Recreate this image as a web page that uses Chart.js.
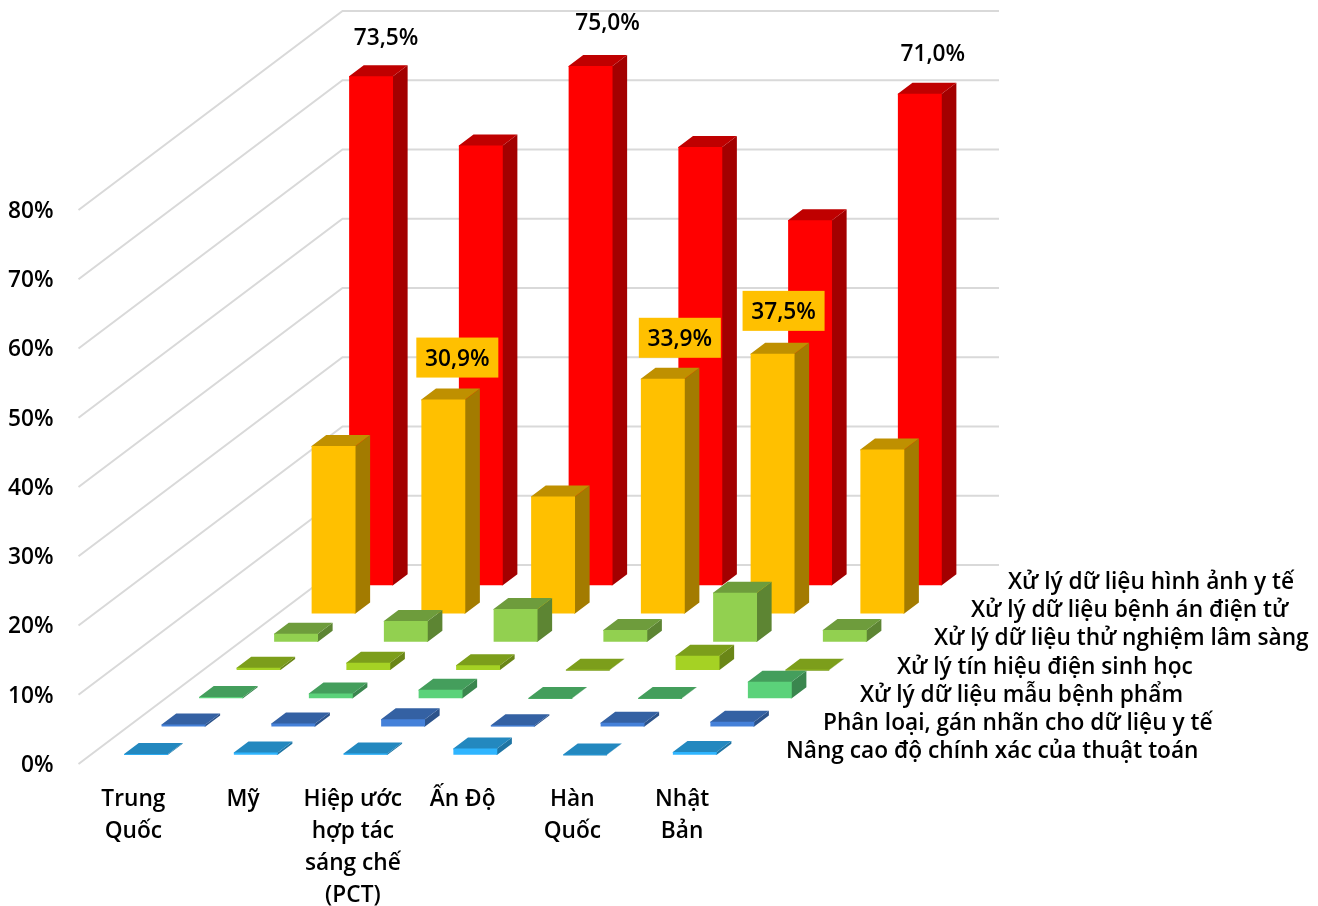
<!DOCTYPE html>
<html lang="vi">
<head>
<meta charset="utf-8">
<title>Biểu đồ cột 3D</title>
<script src="https://cdn.jsdelivr.net/npm/chart.js@4"></script>
<style>
  html, body { margin: 0; background: #fff; }
  canvas { display: block; }
</style>
</head>
<body>
<canvas id="chart" width="1318" height="906"></canvas>
<script>
const countries = [['Trung', 'Quốc'], 'Mỹ', ['Hiệp ước', 'hợp tác', 'sáng chế', '(PCT)'], 'Ấn Độ', ['Hàn', 'Quốc'], ['Nhật', 'Bản']];

// Series run front to back
const seriesNames = [
  'Nâng cao độ chính xác của thuật toán',
  'Phân loại, gán nhãn cho dữ liệu y tế',
  'Xử lý dữ liệu mẫu bệnh phẩm',
  'Xử lý tín hiệu điện sinh học',
  'Xử lý dữ liệu thử nghiệm lâm sàng',
  'Xử lý dữ liệu bệnh án điện tử',
  'Xử lý dữ liệu hình ảnh y tế',
];
const accuracy = [0.1, 0.35, 0.2, 0.9, 0.05, 0.4];
const annotation = [0.3, 0.45, 1.05, 0.2, 0.55, 0.7];
const specimens = [0.2, 0.7, 1.25, 0.05, 0.05, 2.4];
const biosignals = [0.35, 1.05, 0.7, 0.05, 2.05, 0.05];
const trials = [1.15, 3.0, 4.75, 1.7, 7.1, 1.7];
const records = [24.2, 30.9, 16.9, 33.9, 37.5, 23.7];
const imaging = [73.5, 63.5, 75.0, 63.3, 52.7, 71.0];
const seriesValues = [accuracy, annotation, specimens, biosignals, trials, records, imaging];

const seriesColors = [[47, 181, 255], [69, 129, 217], [91, 210, 122], [165, 210, 36], [146, 208, 80], [255, 192, 0], [255, 0, 0]];

// Which bars carry a value label, and where the label sits relative to the bar top
const valueLabels = [
  { series: 6, index: 0, dx: 15, dy: -40 },
  { series: 6, index: 2, dx: 17, dy: -44 },
  { series: 6, index: 5, dx: 13, dy: -41 },
  { series: 5, index: 1, dx: 14, dy: -42, box: '#FFC000' },
  { series: 5, index: 3, dx: 17, dy: -41, box: '#FFC000' },
  { series: 5, index: 4, dx: 11, dy: -43, box: '#FFC000' },
];

const FONT = '"Open Sans", "Noto Sans", sans-serif';
const FONT_SIZE = 22.7;

// Oblique projection
const STEP_X = 37.5, STEP_Y = 28.25;     // shift per series
const FRONT_X = 12.7, FRONT_Y = 9.2;     // first series inset from the front edge
const BAR_DX = 14.6, BAR_DY = 11;        // visible depth of one bar
const WALL_DX = 264, WALL_DY = 199;      // floor depth
const WALL_RIGHT = 999;

function shade(rgb, k) {
  return `rgb(${rgb.map(c => Math.round(c * k)).join(',')})`;
}

function polygon(ctx, points, color) {
  ctx.fillStyle = color;
  ctx.beginPath();
  points.forEach(([x, y], i) => (i ? ctx.lineTo(x, y) : ctx.moveTo(x, y)));
  ctx.closePath();
  ctx.fill();
}

function depthShift(series) {
  return [FRONT_X + series * STEP_X, -(FRONT_Y + series * STEP_Y)];
}

const bars3d = {
  id: 'bars3d',

  // Side wall and receding gridlines
  beforeDatasetsDraw(chart) {
    const { ctx, scales: { y } } = chart;
    ctx.save();
    ctx.strokeStyle = '#D9D9D9';
    ctx.lineWidth = 2;
    y.ticks.forEach(t => {
      const py = y.getPixelForValue(t.value);
      ctx.beginPath();
      ctx.moveTo(y.right, py);
      ctx.lineTo(y.right + WALL_DX, py - WALL_DY);
      ctx.lineTo(WALL_RIGHT, py - WALL_DY);
      ctx.stroke();
    });
    ctx.restore();
  },

  // Shift the whole dataset back, add side and top faces; the library draws the front.
  // Faces run 1px under the front so nothing shows through at the shared edge.
  beforeDatasetDraw(chart, args) {
    const { ctx } = chart;
    const [sx, sy] = depthShift(args.index);
    const rgb = seriesColors[args.index];
    ctx.save();
    ctx.translate(sx, sy);
    args.meta.data.forEach(bar => {
      const l = bar.x - bar.width / 2, r = bar.x + bar.width / 2;
      polygon(ctx, [[r - 1, bar.y], [r, bar.y], [r + BAR_DX, bar.y - BAR_DY], [r + BAR_DX, bar.base - BAR_DY], [r, bar.base], [r - 1, bar.base]], shade(rgb, 0.64));
      polygon(ctx, [[l, bar.y + 1], [l, bar.y], [l + BAR_DX, bar.y - BAR_DY], [r + BAR_DX, bar.y - BAR_DY], [r, bar.y], [r, bar.y + 1]], shade(rgb, 0.75));
    });
  },

  afterDatasetDraw(chart) {
    chart.ctx.restore();
  },

  // Series names along the depth axis and value labels on top of everything
  afterDatasetsDraw(chart) {
    const { ctx, scales: { x } } = chart;
    ctx.save();
    ctx.font = `600 ${FONT_SIZE}px ${FONT}`;
    ctx.fillStyle = '#000';
    ctx.textBaseline = 'middle';
    ctx.textAlign = 'left';
    seriesNames.forEach((name, i) => {
      ctx.fillText(name, x.right + 49 + i * 37, 752 - i * STEP_Y);
    });

    ctx.textAlign = 'center';
    valueLabels.forEach(({ series, index, dx, dy, box }) => {
      const bar = chart.getDatasetMeta(series).data[index];
      const [sx, sy] = depthShift(series);
      const cx = bar.x + sx + dx, cy = bar.y + sy + dy;
      if (box) {
        ctx.fillStyle = box;
        ctx.fillRect(cx - 41, cy - 20, 82, 40);
      }
      ctx.fillStyle = '#000';
      const text = seriesValues[series][index].toFixed(1).replace('.', ',') + '%';
      ctx.fillText(text, cx, cy + 2);
    });
    ctx.restore();
  },
};

new Chart(document.getElementById('chart'), {
  type: 'bar',
  data: {
    labels: countries,
    datasets: seriesNames.map((label, i) => ({
      label,
      data: seriesValues[i],
      backgroundColor: shade(seriesColors[i], 1),
      grouped: false,
      clip: false,
      barPercentage: 1,
      categoryPercentage: 0.4,
    })),
  },
  options: {
    responsive: false,
    animation: false,
    layout: { padding: { top: 210, right: 581 } },
    plugins: { legend: { display: false }, tooltip: { enabled: false } },
    scales: {
      x: {
        grid: { display: false, drawTicks: false },
        border: { display: false },
        afterFit: s => { s.height = 142; },
        ticks: {
          autoSkip: false,
          maxRotation: 0,
          padding: 20,
          color: '#000',
          font: { family: FONT, size: FONT_SIZE, weight: '600', lineHeight: 32 / FONT_SIZE },
        },
      },
      y: {
        min: 0,
        max: 80,
        grid: { display: false, drawTicks: false },
        border: { display: false },
        afterFit: s => { s.width = 78.5; },
        ticks: {
          stepSize: 10,
          padding: 25,
          labelOffset: 1.5,
          color: '#000',
          font: { family: FONT, size: FONT_SIZE, weight: '600' },
          callback: v => `${v}%`,
        },
      },
    },
  },
  plugins: [bars3d],
});
</script>
</body>
</html>
